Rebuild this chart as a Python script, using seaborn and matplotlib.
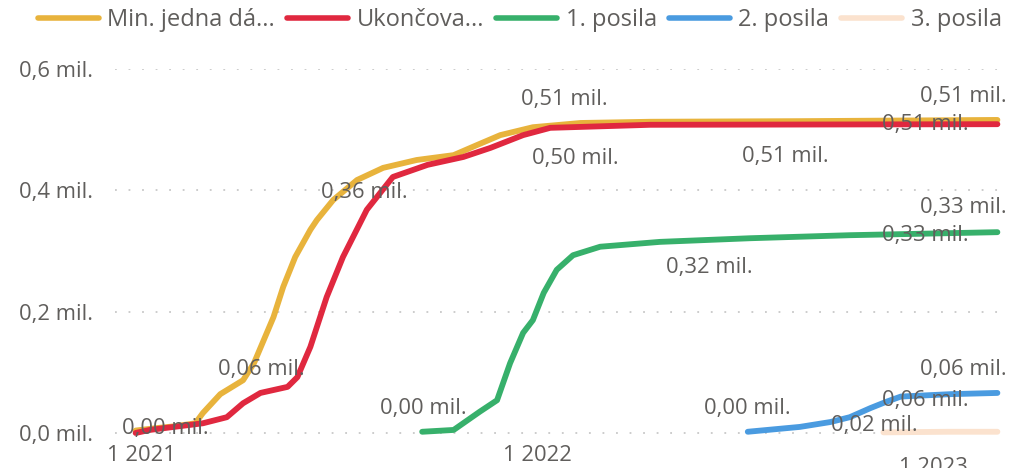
import pandas as pd
import seaborn as sns
import matplotlib.pyplot as plt
import matplotlib.transforms as mtransforms

sns.set_theme(style="white")
plt.rcParams["font.family"] = ["Open Sans", "DejaVu Sans"]

TEXT = "#605E5C"

# cumulative doses (millions)
yellow_dates = ["2020-12-27", "2021-01-15", "2021-02-01", "2021-02-20", "2021-02-27",
                "2021-03-15", "2021-04-05", "2021-04-15", "2021-05-03", "2021-05-12",
                "2021-05-23", "2021-06-06", "2021-06-12", "2021-06-27", "2021-07-19",
                "2021-08-12", "2021-09-12", "2021-10-16", "2021-11-07", "2021-11-28",
                "2021-12-28", "2022-02-10", "2022-04-15", "2022-08-31", "2023-03-01"]
yellow_vals = [0.004, 0.008, 0.011, 0.016, 0.033, 0.064, 0.087, 0.115, 0.191, 0.241,
               0.290, 0.335, 0.351, 0.384, 0.417, 0.437, 0.450, 0.458, 0.475, 0.491,
               0.504, 0.511, 0.513, 0.514, 0.516]

red_dates = ["2020-12-27", "2021-01-09", "2021-02-27", "2021-03-21", "2021-04-05",
             "2021-04-21", "2021-05-16", "2021-05-25", "2021-06-06", "2021-06-21",
             "2021-07-06", "2021-07-28", "2021-08-21", "2021-09-22", "2021-10-25",
             "2021-11-19", "2021-12-19", "2022-01-13", "2022-04-15", "2023-03-01"]
red_vals = [0.000, 0.005, 0.016, 0.026, 0.049, 0.066, 0.076, 0.092, 0.142, 0.224,
            0.290, 0.368, 0.422, 0.442, 0.455, 0.470, 0.491, 0.503, 0.508, 0.509]

green_dates = ["2021-09-17", "2021-10-16", "2021-11-09", "2021-11-25", "2021-12-07",
               "2021-12-19", "2021-12-28", "2022-01-07", "2022-01-19", "2022-02-03",
               "2022-02-28", "2022-04-24", "2022-07-16", "2022-10-16", "2023-03-01"]
green_vals = [0.002, 0.005, 0.035, 0.054, 0.115, 0.165, 0.186, 0.231, 0.269, 0.293,
              0.307, 0.315, 0.321, 0.326, 0.331]

blue_dates = ["2022-07-14", "2022-08-31", "2022-09-28", "2022-10-16", "2022-11-04",
              "2022-11-18", "2022-12-02", "2023-01-17", "2023-03-01"]
blue_vals = [0.002, 0.010, 0.018, 0.026, 0.041, 0.051, 0.060, 0.064, 0.066]

peach_dates = ["2022-11-16", "2023-01-15", "2023-03-01"]
peach_vals = [0.001, 0.002, 0.002]

series_names = ["Min. jedna dá...", "Ukončova...", "1. posila", "2. posila", "3. posila"]
series_colors = ["#E8B33C", "#E0283F", "#37B06B", "#4A9BE0", "#FBE2CE"]
series_dates = [yellow_dates, red_dates, green_dates, blue_dates, peach_dates]
series_vals = [yellow_vals, red_vals, green_vals, blue_vals, peach_vals]

# data labels as shown on the chart: (date, value position, text)
label_dates = ["2021-01-23", "2021-04-22", "2021-07-26", "2022-01-26", "2022-02-05",
               "2022-08-18", "2023-01-29", "2022-12-25", "2023-01-29", "2022-12-25",
               "2022-06-09", "2021-09-18", "2022-07-14", "2023-01-29", "2022-12-25",
               "2022-11-08"]
label_ypos = [0.008, 0.104, 0.396, 0.549, 0.453, 0.455, 0.554, 0.508, 0.371, 0.326,
              0.272, 0.041, 0.041, 0.104, 0.054, 0.013]
label_texts = ["0,00 mil.", "0,06 mil.", "0,36 mil.", "0,51 mil.", "0,50 mil.",
               "0,51 mil.", "0,51 mil.", "0,51 mil.", "0,33 mil.", "0,33 mil.",
               "0,32 mil.", "0,00 mil.", "0,00 mil.", "0,06 mil.", "0,06 mil.",
               "0,02 mil."]

tick_dates = ["2021-01-01", "2022-01-01", "2023-01-01"]
tick_labels = ["1 2021", "1 2022", "1 2023"]
y_ticks = [0.0, 0.2, 0.4, 0.6]
y_labels = ["0,0 mil.", "0,2 mil.", "0,4 mil.", "0,6 mil."]

fig = plt.figure(figsize=(10.17, 4.68), dpi=100)
ax = fig.add_axes([0.1131, 0.0554, 0.8751, 0.7972])

for name, color, d, v in zip(series_names, series_colors, series_dates, series_vals):
    df = pd.DataFrame({"date": pd.to_datetime(d), "value": v})
    sns.lineplot(data=df, x="date", y="value", color=color, linewidth=4.2,
                 label=name, ax=ax, solid_capstyle="round", clip_on=False)

for d, y, t in zip(label_dates, label_ypos, label_texts):
    ax.text(pd.Timestamp(d), y, t, ha="center", va="center", fontsize=15.8,
            color=TEXT, zorder=5)

ax.set_xlim(pd.Timestamp("2020-12-08"), pd.Timestamp("2023-03-08"))
ax.set_ylim(-0.015, 0.6)
ax.set_xticks(pd.to_datetime(tick_dates))
ax.set_xticklabels(tick_labels)
ax.set_yticks(y_ticks)
ax.set_yticklabels(y_labels)
ax.tick_params(axis="both", length=0, labelsize=15.8, labelcolor=TEXT)
ax.tick_params(axis="y", pad=14)
ax.tick_params(axis="x", pad=2)
for lab in ax.get_yticklabels():
    lab.set_horizontalalignment("left")
    lab.set_transform(lab.get_transform() + mtransforms.ScaledTranslation(-0.77, 0, fig.dpi_scale_trans))

# last year label sits lower and gets cut by the canvas edge
last = ax.get_xticklabels()[-1]
last.set_transform(last.get_transform() + mtransforms.ScaledTranslation(0, -0.12, fig.dpi_scale_trans))

ax.set_xlabel("")
ax.set_ylabel("")
for y in y_ticks:
    ax.axhline(y, color="#C8C8C8", linewidth=1.3, linestyle=(0, (1, 6.5)), zorder=0)
sns.despine(ax=ax, left=True, bottom=True)

handles, labels = ax.get_legend_handles_labels()
ax.get_legend().remove()
leg = fig.legend(handles, labels, loc="center", bbox_to_anchor=(0.511, 0.957), ncol=5,
                 frameon=False, fontsize=17, handlelength=2.6, handletextpad=0.35,
                 columnspacing=0.5, labelcolor=TEXT)
for h in leg.get_lines():
    h.set_linewidth(4)

fig.savefig("out.png", dpi=100)
